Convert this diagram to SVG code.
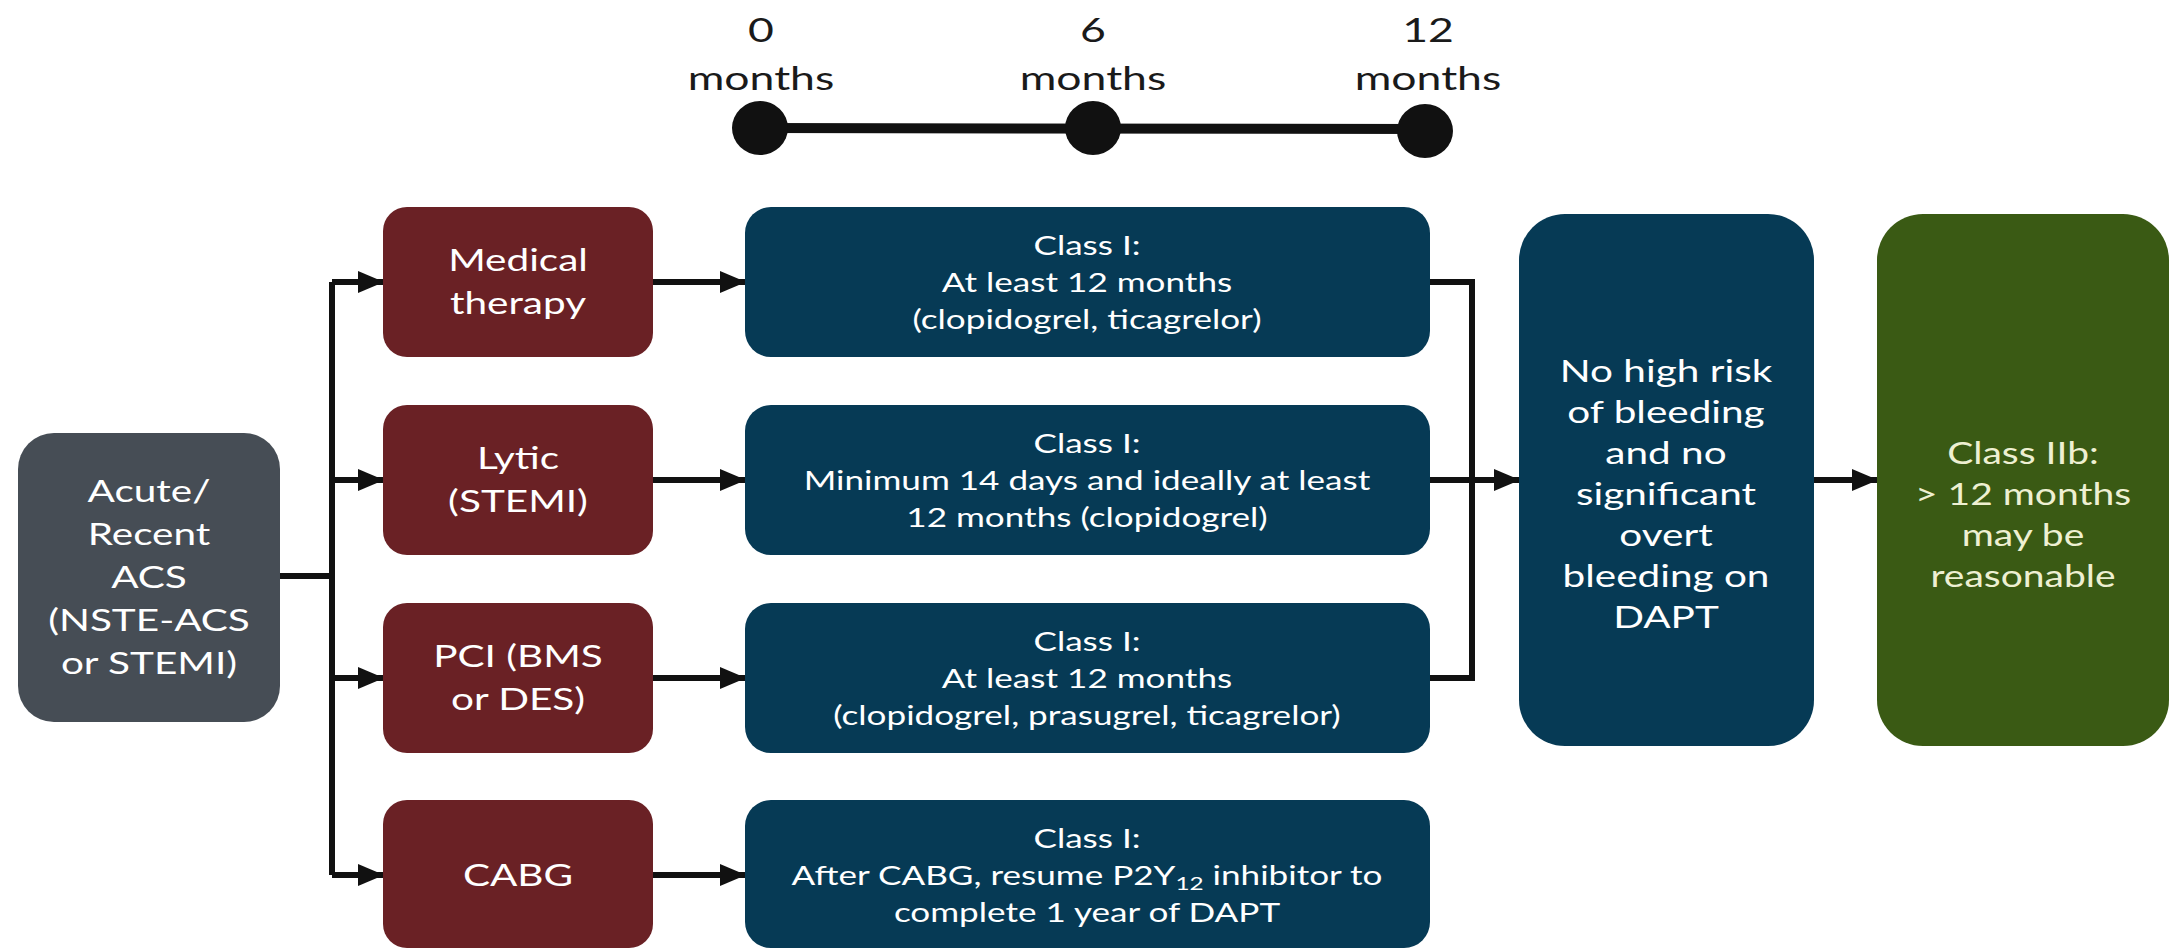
<svg xmlns="http://www.w3.org/2000/svg" width="2171" height="948" viewBox="0 0 2171 948">
<defs>
<style>
.t{font-family:Lato,"Open Sans","Liberation Sans",sans-serif;text-anchor:middle}
.big{font-size:30px;fill:#ffffff}
.sm{font-size:26px;fill:#ffffff}
.cream{font-size:30px;fill:#eef0d2}
.tl{font-size:33px;fill:#1a1a1a}
.gray{fill:#464d55}
.red{fill:#6a2125}
.blue{fill:#063a55}
.green{fill:#3a5a14}
.ln{stroke:#111;stroke-width:6;fill:none}
</style>
<marker id="ah" markerWidth="26" markerHeight="22" refX="25" refY="11" orient="auto" markerUnits="userSpaceOnUse">
<path d="M0,0 L26,11 L0,22 Z" fill="#111"/>
</marker>
</defs>
<rect width="2171" height="948" fill="#ffffff"/>

<g id="timeline">
<line x1="760" y1="128" x2="1425" y2="129" stroke="#111" stroke-width="10"/>
<ellipse cx="760" cy="128" rx="28" ry="27" fill="#111"/>
<ellipse cx="1093" cy="128" rx="28" ry="27" fill="#111"/>
<ellipse cx="1425" cy="131" rx="28" ry="27" fill="#111"/>
<text class="t tl" transform="translate(761 0) scale(1.35 1)"><tspan x="0" y="42">0</tspan><tspan x="0" y="90">months</tspan></text>
<text class="t tl" transform="translate(1093 0) scale(1.35 1)"><tspan x="0" y="42">6</tspan><tspan x="0" y="90">months</tspan></text>
<text class="t tl" transform="translate(1428 0) scale(1.35 1)"><tspan x="0" y="42">12</tspan><tspan x="0" y="90">months</tspan></text>
</g>

<g id="connectors">
<polyline class="ln" points="280,576 332,576"/>
<polyline class="ln" points="332,282 332,875"/>
<line class="ln" x1="332" y1="282" x2="383" y2="282" marker-end="url(#ah)"/>
<line class="ln" x1="332" y1="480" x2="383" y2="480" marker-end="url(#ah)"/>
<line class="ln" x1="332" y1="678" x2="383" y2="678" marker-end="url(#ah)"/>
<line class="ln" x1="332" y1="875" x2="383" y2="875" marker-end="url(#ah)"/>
<line class="ln" x1="653" y1="282" x2="745" y2="282" marker-end="url(#ah)"/>
<line class="ln" x1="653" y1="480" x2="745" y2="480" marker-end="url(#ah)"/>
<line class="ln" x1="653" y1="678" x2="745" y2="678" marker-end="url(#ah)"/>
<line class="ln" x1="653" y1="875" x2="745" y2="875" marker-end="url(#ah)"/>
<polyline class="ln" points="1430,282 1472,282 1472,678 1430,678"/>
<line class="ln" x1="1430" y1="480" x2="1519" y2="480" marker-end="url(#ah)"/>
<line class="ln" x1="1814" y1="480" x2="1877" y2="480" marker-end="url(#ah)"/>
</g>

<g id="acs">
<rect class="gray" x="18" y="433" width="262" height="289" rx="36"/>
<text class="t big" transform="translate(149 0) scale(1.35 1)"><tspan x="0" y="502">Acute/</tspan><tspan x="0" y="545">Recent</tspan><tspan x="0" y="588">ACS</tspan><tspan x="0" y="631">(NSTE-ACS</tspan><tspan x="0" y="674">or STEMI)</tspan></text>
</g>

<g id="medical">
<rect class="red" x="383" y="207" width="270" height="150" rx="24"/>
<text class="t big" transform="translate(518 0) scale(1.35 1)"><tspan x="0" y="271">Medical</tspan><tspan x="0" y="314">therapy</tspan></text>
</g>
<g id="lytic">
<rect class="red" x="383" y="405" width="270" height="150" rx="24"/>
<text class="t big" transform="translate(518 0) scale(1.35 1)"><tspan x="0" y="469">Lytic</tspan><tspan x="0" y="512">(STEMI)</tspan></text>
</g>
<g id="pci">
<rect class="red" x="383" y="603" width="270" height="150" rx="24"/>
<text class="t big" transform="translate(518 0) scale(1.35 1)"><tspan x="0" y="667">PCI (BMS</tspan><tspan x="0" y="710">or DES)</tspan></text>
</g>
<g id="cabg">
<rect class="red" x="383" y="800" width="270" height="148" rx="24"/>
<text class="t big" transform="translate(518 0) scale(1.35 1)"><tspan x="0" y="886">CABG</tspan></text>
</g>

<g id="class-medical">
<rect class="blue" x="745" y="207" width="685" height="150" rx="26"/>
<text class="t sm" transform="translate(1087 0) scale(1.35 1)"><tspan x="0" y="255">Class I:</tspan><tspan x="0" y="292">At least 12 months</tspan><tspan x="0" y="329">(clopidogrel, ticagrelor)</tspan></text>
</g>
<g id="class-lytic">
<rect class="blue" x="745" y="405" width="685" height="150" rx="26"/>
<text class="t sm" transform="translate(1087 0) scale(1.35 1)"><tspan x="0" y="453">Class I:</tspan><tspan x="0" y="490">Minimum 14 days and ideally at least</tspan><tspan x="0" y="527">12 months (clopidogrel)</tspan></text>
</g>
<g id="class-pci">
<rect class="blue" x="745" y="603" width="685" height="150" rx="26"/>
<text class="t sm" transform="translate(1087 0) scale(1.35 1)"><tspan x="0" y="651">Class I:</tspan><tspan x="0" y="688">At least 12 months</tspan><tspan x="0" y="725">(clopidogrel, prasugrel, ticagrelor)</tspan></text>
</g>
<g id="class-cabg">
<rect class="blue" x="745" y="800" width="685" height="148" rx="26"/>
<text class="t sm" transform="translate(1087 0) scale(1.35 1)"><tspan x="0" y="848">Class I:</tspan><tspan x="0" y="885">After CABG, resume P2Y<tspan font-size="18" dy="5">12</tspan><tspan dy="-5"> inhibitor to</tspan></tspan><tspan x="0" y="922">complete 1 year of DAPT</tspan></text>
</g>

<g id="bleeding">
<rect class="blue" x="1519" y="214" width="295" height="532" rx="46"/>
<text class="t big" transform="translate(1666 0) scale(1.35 1)"><tspan x="0" y="382">No high risk</tspan><tspan x="0" y="423">of bleeding</tspan><tspan x="0" y="464">and no</tspan><tspan x="0" y="505">significant</tspan><tspan x="0" y="546">overt</tspan><tspan x="0" y="587">bleeding on</tspan><tspan x="0" y="628">DAPT</tspan></text>
</g>

<g id="class-iib">
<rect class="green" x="1877" y="214" width="292" height="532" rx="46"/>
<text class="t cream" transform="translate(2023 0) scale(1.3 1)"><tspan x="0" y="464">Class IIb:</tspan><tspan x="0" y="505">&gt; 12 months</tspan><tspan x="0" y="546">may be</tspan><tspan x="0" y="587">reasonable</tspan></text>
</g>
</svg>
